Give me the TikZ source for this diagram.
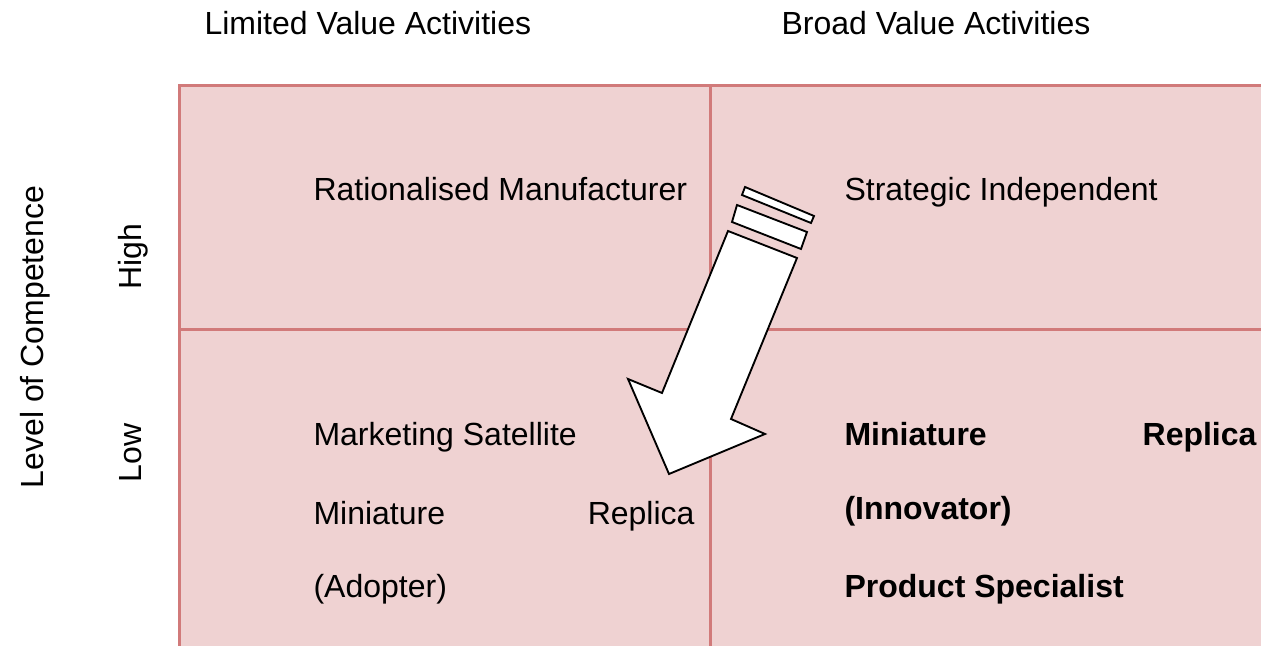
\documentclass[tikz,border=0pt]{standalone}
\usepackage{fontspec}
\setmainfont{Liberation Sans}
\usepackage{tikz}
\usepackage{xcolor}
\usetikzlibrary{positioning, calc}
\definecolor{CellPink}{RGB}{239, 210, 210}
\definecolor{CellRule}{RGB}{209, 122, 122}
\definecolor{ArrowBlack}{RGB}{0, 0, 0}
\definecolor{ArrowWhite}{RGB}{255, 255, 255}

\begin{document}
\begin{tikzpicture}[
    x=0.375pt, y=-0.375pt,
    font=\fontsize{12}{14}\selectfont,
    % Styles
    axislabel/.style={inner sep=0pt, anchor=base west, text=black},
    sidelabel/.style={inner sep=0pt, rotate=90, anchor=base, text=black},
    celltext/.style={inner sep=0pt, anchor=base west, text=black},
    cellright/.style={inner sep=0pt, anchor=base east, text=black},
    gridline/.style={line width=1.125pt, color=CellRule},
    bigarrow/.style={draw=ArrowBlack, fill=ArrowWhite, line width=0.7pt, line join=miter}
]

\useasboundingbox (0,0) rectangle (1261,646);
\clip (0,0) rectangle (1261,646);

% ==========================================================================================
% GRID (2 x 2)
% ==========================================================================================

\fill[CellPink] (179,86) rectangle (1280,670);
\draw[gridline] (1280,86) -- (179,86) -- (179,670);
\draw[gridline] (179,330) -- (1280,330);
\draw[gridline] (710,86) -- (710,670);

% Column headings
\node[axislabel] (limited) at (204,35) {Limited Value Activities};
\node[axislabel] (broad) at (781,35) {Broad Value Activities};

% Row headings
\node[sidelabel] (competence) at (43,337) {Level of Competence};
\node[sidelabel] (high) at (141,257) {High};
\node[sidelabel] (low) at (141,453) {Low};

% ==========================================================================================
% CELL TEXTS
% ==========================================================================================

\node[celltext] (rational) at (313,201) {Rationalised Manufacturer};
\node[celltext] (strategic) at (844,201) {Strategic Independent};

\node[celltext] (marketing) at (313,446) {Marketing Satellite};
\node[celltext] (mini_a) at (313,525) {Miniature};
\node[cellright] (replica_a) at (695,525) {Replica};
\node[celltext] (adopter) at (313,598) {(Adopter)};

\node[celltext, font=\fontsize{12}{14}\selectfont\bfseries] (mini_i) at (844,446) {Miniature};
\node[cellright, font=\fontsize{12}{14}\selectfont\bfseries] (replica_i) at (1257,446) {Replica};
\node[celltext, font=\fontsize{12}{14}\selectfont\bfseries] (innovator) at (844,520) {(Innovator)};
\node[celltext, font=\fontsize{12}{14}\selectfont\bfseries] (specialist) at (844,598) {Product Specialist};

% ==========================================================================================
% STRIPED ARROW
% ==========================================================================================

% Thin stripe
\draw[bigarrow] (745,187) -- (814,216) -- (811,223) -- (742,195) -- cycle;
% Wide stripe
\draw[bigarrow] (737,205) -- (807,232) -- (801,249) -- (732,222) -- cycle;
% Arrow body
\draw[bigarrow] (728,231) -- (797,258) -- (731,419) -- (765,434) -- (669,474)
    -- (628,379) -- (662,393) -- cycle;

\end{tikzpicture}
\end{document}
